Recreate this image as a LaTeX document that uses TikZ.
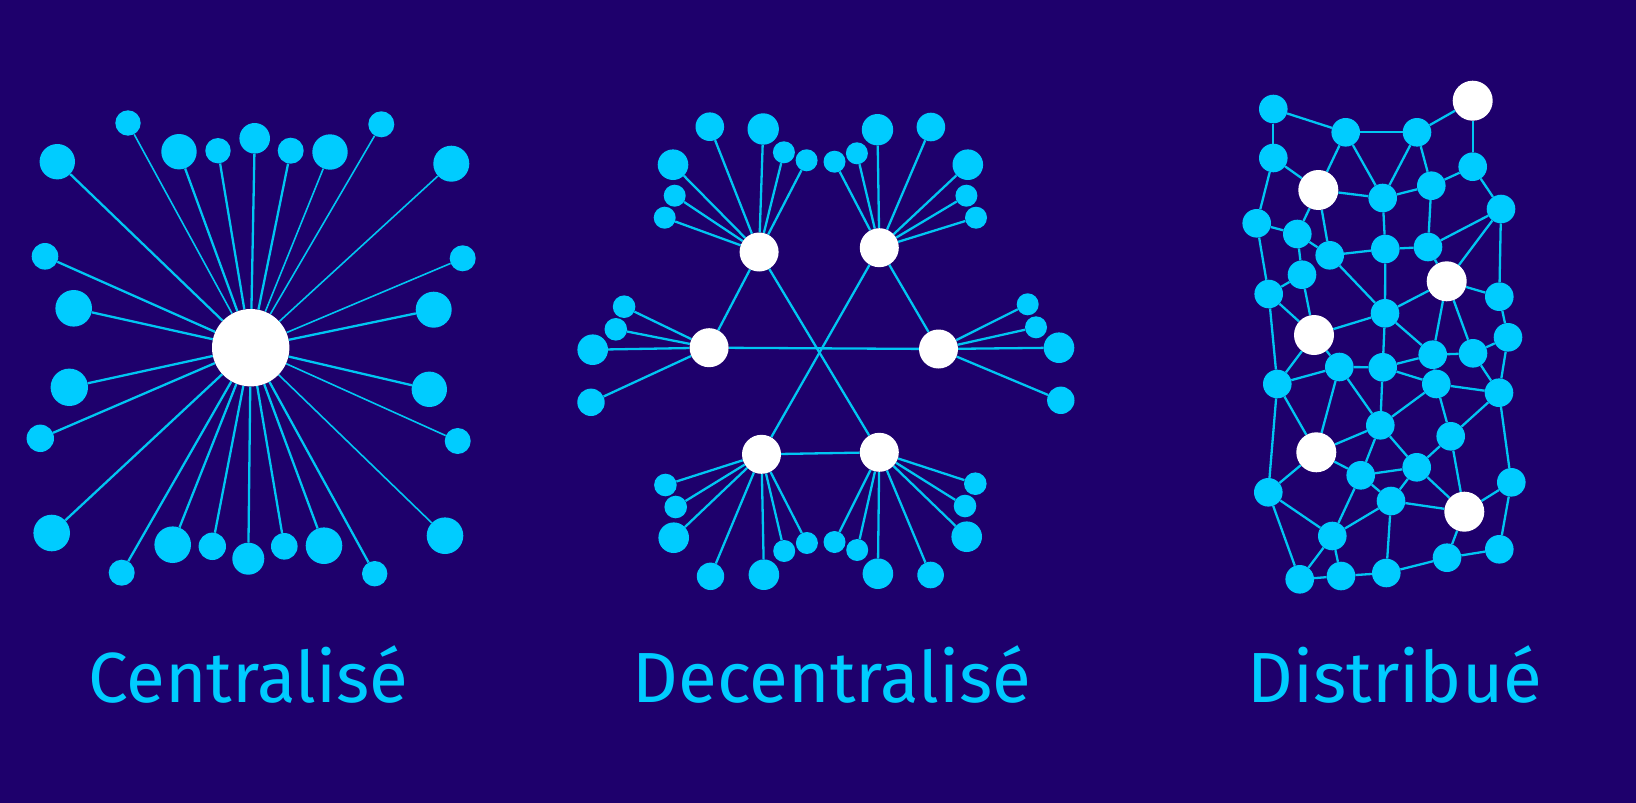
\documentclass[tikz,border=0pt]{standalone}
\usepackage{fontspec}
\setmainfont{Fira Sans}
\definecolor{bgc}{HTML}{1E006C}
\definecolor{cy}{HTML}{00CCFF}
\definecolor{ln}{HTML}{00C6F2}
\pgfdeclarelayer{bglayer}
\pgfdeclarelayer{edges}
\pgfsetlayers{bglayer,edges,main}
\tikzset{
  sat/.style={circle,fill=cy,draw=none,inner sep=0pt,minimum size=#1},
  hubw/.style={circle,fill=white,draw=none,inner sep=0pt,minimum size=#1},
  link/.style={draw=ln,line width=2.3pt},
  thinlink/.style={draw=ln,line width=1.6pt},
  label/.style={text=cy,font=\fontsize{71}{78}\selectfont,anchor=base,inner sep=0pt}
}
\begin{document}
\begin{tikzpicture}[x=1pt,y=-1pt]
\begin{pgfonlayer}{bglayer}
\fill[bgc] (0,0) rectangle (1636,803);
\end{pgfonlayer}
\useasboundingbox (0,0) rectangle (1636,803);

% ---------- Centralise ----------
\node[hubw=77.4pt] (H) at (250.7,347.7) {};
\foreach \n/\x/\y/\r in {
 c1/128/123/12.7, c2/57.3/161.7/17.7, c3/179/151.7/17.7, c4/218/150.7/12.7,
 c5/254.7/138.3/15.3, c6/290.7/150.7/13, c7/330/152/17.7, c8/381.3/124.3/13,
 c9/451.3/163.7/18, c10/45/256.3/13.3, c11/462.7/258.3/13, c12/73.7/308.3/18.3,
 c13/433.7/309.7/18, c14/69.3/387.3/18.7, c15/429.3/389.3/17.7, c16/40.3/438.3/13.7,
 c17/457.7/441/13, c18/51.7/533/18.3, c19/445/535.7/18.3, c20/121.7/572.7/13,
 c21/172.7/544.7/18.3, c22/212.3/546.3/13.7, c23/248.3/558.7/16, c24/284.3/546.3/13.3,
 c25/324/545.7/18.3, c26/374.7/573.7/12.7}
 \node[sat=2*\r pt] (\n) at (\x,\y) {};
\begin{pgfonlayer}{edges}
\foreach \n in {c2,c3,c4,c5,c6,c10,c12,c13,c14,c15,c16,c18,c20,c21,c22,c23,c24,c25,c26}
 \draw[link] (H) -- (\n);
\foreach \n in {c1,c7,c8,c9,c11,c17,c19}
 \draw[thinlink] (H) -- (\n);
\end{pgfonlayer}
\node[label] (lc) at (248,702.5) {Centralisé};

% ---------- Decentralise ----------
\foreach \n/\x/\y in {A/759.1/252, B/879.3/247.7, C/709.1/347.7, D/938.5/349, E/761.5/454.3, F/879.3/452.3}
 \node[hubw=39pt] (\n) at (\x,\y) {};
\foreach \h/\n/\x/\y/\r in {
 A/a1/709.8/126.7/14.3, A/a2/763.2/129/15.7, A/a3/783.9/152.3/11, A/a4/806.6/160.3/11,
 A/a5/673/164.7/15.3, A/a6/674.7/195.7/11, A/a7/664.7/217.7/11,
 B/b1/834.5/161.7/11, B/b2/856.9/153.3/11, B/b3/877.5/129.7/15.7, B/b4/930.9/127/14.3,
 B/b5/967.8/164.7/15.3, B/b6/966.4/195.7/11, B/b7/976/217.7/11,
 C/k1/624.1/306.7/11.3, C/k2/615.8/329.3/11.3, C/k3/592.7/349.7/15.3, C/k4/591/402.3/13.7,
 D/d1/1027.7/304.3/11, D/d2/1036/327.3/11, D/d3/1059/347.7/15.3, D/d4/1060.8/400.3/13.7,
 E/e1/665.4/485/11.3, E/e2/675.7/507/11.3, E/e3/673.7/537.7/15.3, E/e4/710.5/576.3/13.7,
 E/e5/763.9/574.7/15.3, E/e6/784.2/551/11, E/e7/806.9/543/11,
 F/f1/834.5/542/11, F/f2/857.2/550/11, F/f3/877.9/573.7/15.3, F/f4/930.6/575/13.3,
 F/f5/966.7/536.7/15.3, F/f6/965/506/11.3, F/f7/975.3/483.7/11.3}
 {\node[sat=2*\r pt] (\n) at (\x,\y) {};
  \begin{pgfonlayer}{edges}\draw[link] (\h) -- (\n);\end{pgfonlayer}}
\begin{pgfonlayer}{edges}
\foreach \p/\q in {A/F, B/E, C/D, A/C, B/D, E/F}
 \draw[link] (\p) -- (\q);
\end{pgfonlayer}
\node[label] (ld) at (832,702.5) {Decentralisé};

% ---------- Distribue ----------
\foreach \n/\x/\y in {W1/1472.7/100.7, W2/1318.3/190, W3/1446.7/281.3, W4/1314/335, W5/1316.3/452.3, W6/1464.3/511.7}
 \node[hubw=40pt] (\n) at (\x,\y) {};
\foreach \n/\x/\y in {
 n1/1273.3/109, n2/1345.7/132.3, n3/1417/132.3, n4/1273.3/158, n5/1472.7/166.7,
 n6/1431.3/185.7, n7/1382.7/198, n8/1256.7/223.3, n9/1501/209, n10/1297.3/234,
 n11/1329.7/255.3, n12/1385.3/249, n13/1428/247, n14/1302/274.7, n15/1268.7/294,
 n16/1499.3/296.7, n17/1385/313.3, n18/1508/337.3, n19/1432.7/354.7, n20/1473/353.3,
 n21/1339.3/367, n22/1382.7/367.3, n23/1277.3/384, n24/1436.3/384, n25/1499/392.7,
 n26/1380.3/425.3, n27/1450.7/436.3, n28/1360.7/475.3, n29/1416.7/467.3, n30/1511.3/482.3,
 n31/1268.3/492.3, n32/1391/501, n33/1332.3/536, n34/1499.3/549.3, n35/1447/557.7,
 n36/1299.7/579.3, n37/1341/576, n38/1386.3/573}
 \node[sat=28.6pt] (\n) at (\x,\y) {};
\begin{pgfonlayer}{edges}
\foreach \p/\q in {
 n1/n2, n1/n4, n2/n3, n3/W1, W1/n5, n2/W2, n2/n7, n3/n7, n3/n6, n4/W2, n4/n8,
 n5/n6, n5/n9, n6/n7, W2/n7, n7/n12, n6/n13, n8/n10, n8/n15, W2/n10, W2/n11,
 n10/n11, n10/n14, n11/n12, n12/n13, n13/n9, n11/n17, n12/n17, n9/W3, n9/n16,
 n13/W3, n14/n15, n14/W4, n15/W4, n15/n23, W3/n17, W3/n16, W3/n19, W3/n20,
 n16/n18, n17/W4, n17/n22, n17/n19,
 W4/n23, W4/n21, n18/n20, n18/n25, n19/n20, n19/n22, n19/n24, n20/n25, n21/n22,
 n21/n23, n21/W5, n21/n26, n22/n24, n22/n26, n24/n25, n24/n26, n24/n27, n25/n27,
 n23/W5, n23/n31, n25/n30, W5/n26, W5/n28, W5/n31, n26/n28, n26/n29, n27/n29,
 n27/W6, n28/n29, n28/n32, n28/n33, n29/n32, n29/W6, n30/W6, n30/n34, n31/n33,
 n31/n36, n32/n33, n32/W6, n32/n38, n33/n36, n33/n37, n36/n37, n37/n38, n38/n35,
 n35/W6, n35/n34}
 \draw[link] (\p) -- (\q);
\end{pgfonlayer}
\node[label] (lt) at (1395,702.5) {Distribué};
\end{tikzpicture}
\end{document}
